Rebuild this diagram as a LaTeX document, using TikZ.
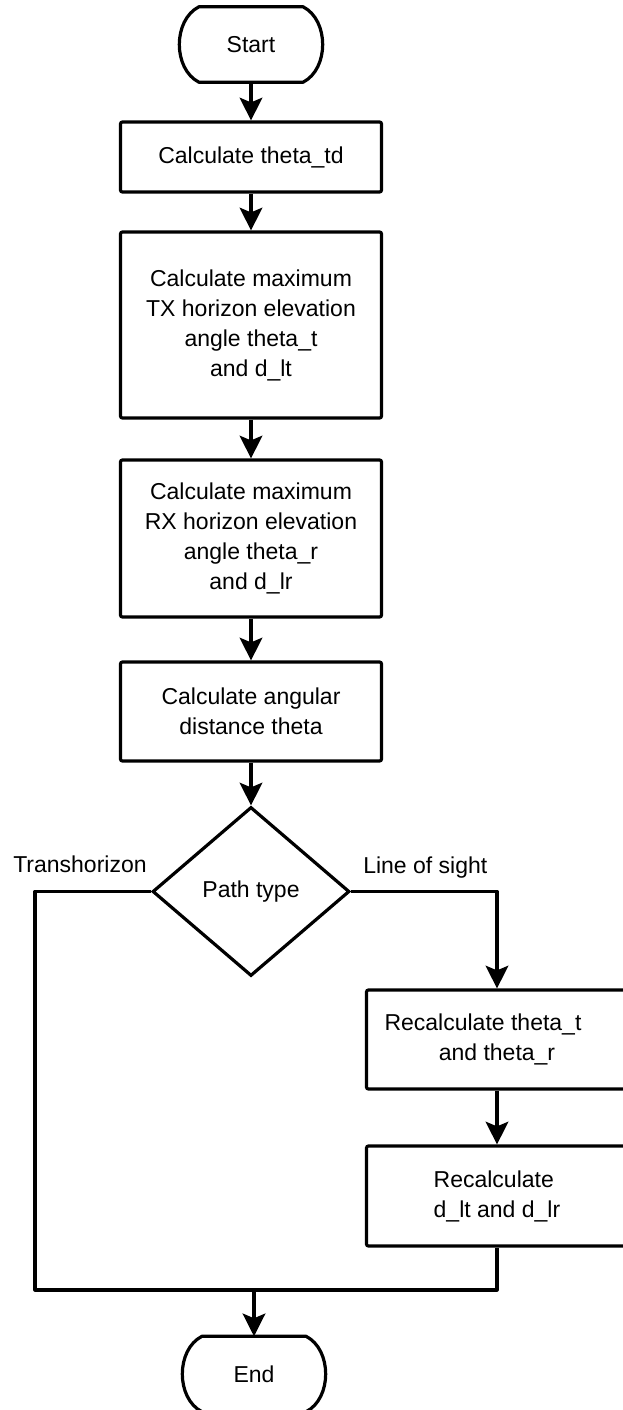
\documentclass[tikz,border=0pt]{standalone}
\usepackage{fontspec}
\setmainfont{Liberation Sans}
\usetikzlibrary{shapes.geometric,arrows.meta}
\begin{document}
\begin{tikzpicture}[x=0.75pt,y=-0.75pt,
  every node/.style={font=\fontsize{17.25pt}{22.5pt}\selectfont},
  box/.style={draw,line width=2.4pt,rounded corners=1.5pt,minimum width=195.75pt,align=center,inner sep=0pt},
  term/.style={minimum width=112.5pt,minimum height=56.25pt,inner sep=0pt},
  decision/.style={draw,line width=2.4pt,diamond,minimum width=147.75pt,minimum height=126.75pt,inner sep=0pt},
  conn/.style={line width=2.4pt,line join=round},
  arr/.style={conn,-{Stealth[length=17pt,width=17pt,inset=3.5pt]}},
  lbl/.style={anchor=base west,inner sep=0pt}
]
\useasboundingbox (0,0) rectangle (622,1410);

\node[term] (start) at (251,44.5) {Start};
\node[box,minimum height=52.5pt] (b1) at (251,157) {Calculate theta\_td};
\node[box,minimum height=139.5pt] (b2) at (251,325) {Calculate maximum\\TX horizon elevation\\angle theta\_t\\and d\_lt};
\node[box,minimum height=117.75pt] (b3) at (251,538.5) {Calculate maximum\\RX horizon elevation\\angle theta\_r\\and d\_lr};
\node[box,minimum height=74.25pt] (b4) at (251,711.5) {Calculate angular\\distance theta};
\node[decision] (dec) at (251,891.5) {Path type};
\node[box,minimum height=74.25pt] (b5) at (497,1039.5) {Recalculate theta\_t\hspace*{21pt}\\and theta\_r};
\node[box,minimum height=75pt,align=left] (b6) at (497,1196) {Recalculate\\d\_lt and d\_lr};
\node[term] (end) at (254,1374) {End};

\foreach \t in {start,end}{
  \draw[conn] ([xshift=-39pt]\t.north) to[bend right=63] ([xshift=-39pt]\t.south)
    -- ([xshift=39pt]\t.south) to[bend right=63] ([xshift=39pt]\t.north) -- cycle;
}

\node[lbl] (th) at (13,872) {Transhorizon};
\node[lbl] (los) at (363,873) {Line of sight};

\coordinate (bl) at (35,1290);
\coordinate (m) at (254,1290);

\draw[arr] (start.south) -- (b1.north);
\draw[arr] (b1.south) -- (b2.north);
\draw[arr] (b2.south) -- (b3.north);
\draw[arr] (b3.south) -- (b4.north);
\draw[arr] (b4.south) -- (dec.north);
\draw[arr] (dec.east) -| (b5.north);
\draw[arr] (b5.south) -- (b6.north);
\draw[conn] (dec.west) -| (bl) -- (b6.south |- bl) -- (b6.south);
\draw[arr] (m) -- (end.north);
\end{tikzpicture}
\end{document}
